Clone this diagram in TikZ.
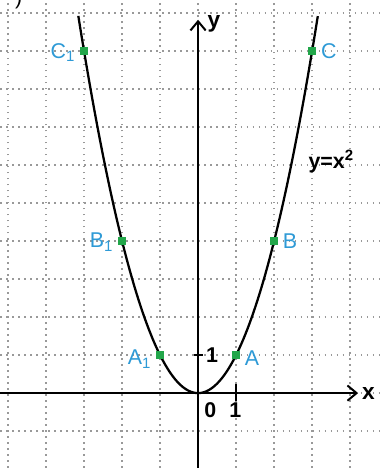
\documentclass[tikz,border=0pt]{standalone}
\usepackage{fontspec}
\setmainfont{Liberation Sans}
\usepackage{xcolor}
\usetikzlibrary{arrows.meta, positioning}

\definecolor{lblblue}{HTML}{2E9AD6}
\definecolor{ptgreen}{HTML}{22A64A}

\begin{document}
\begin{tikzpicture}[
    every node/.style={font=\fontsize{16}{18}\selectfont},
    grid/.style={gray!80, line width=1pt, dash pattern=on 1.2pt off 3.3pt},
    axis/.style={line width=1.5pt, -{Straight Barb[length=2.4mm, width=4mm, line width=1.5pt]}},
    curve/.style={line width=1.7pt, black},
    ptbox/.style={rectangle, fill=ptgreen, minimum size=6.5pt, inner sep=0pt},
    lbl/.style={text=lblblue, inner sep=1pt},
    num/.style={inner sep=1pt, font=\fontsize{16}{18}\selectfont\bfseries},
    axlab/.style={font=\fontsize{17}{19}\selectfont\bfseries}
]
\useasboundingbox (-5.21,-1.97) rectangle (4.89,10.34);

% grid
\foreach \i in {-5,...,4} \draw[grid] (\i,-1.97) -- (\i,10.34);
\foreach \j in {-1,...,10} \draw[grid] (-5.21,\j) -- (4.89,\j);

% axes
\coordinate (xl) at (-5.21,0);
\coordinate (xr) at (4.21,0);
\coordinate (yb) at (0,-1.97);
\coordinate (yt) at (0,9.82);
\draw[axis] (xl) -- (xr);
\draw[axis] (yb) -- (yt);
\node (xlab) [axlab] at (4.48,0) {x};
\node (ylab) [axlab] at (0.42,9.72) {y};

% ticks
\draw[line width=1.3pt] (1,-0.22) -- (1,0.25);
\draw[line width=1.3pt] (-0.12,1) -- (0.12,1);
\node (zero) [num] at (0.32,-0.46) {0};
\node (one) [num] at (0.98,-0.46) {1};
\node (oney) [num] at (0.37,1) {1};

% parabola
\draw[curve] plot[domain=-3.15:3.15, samples=120] (\x,{\x*\x});
\node (fn) at (3.5,6.1) {\textbf{y=x\textsuperscript{2}}};

% points
\node (a) [ptbox] at (1,1) {};
\node (b) [ptbox] at (2,4) {};
\node (c) [ptbox] at (3,9) {};
\node (a1) [ptbox] at (-1,1) {};
\node (b1) [ptbox] at (-2,4) {};
\node (c1) [ptbox] at (-3,9) {};

\node [lbl, right=2pt of a, yshift=-2pt] {A};
\node [lbl, right=2pt of b] {B};
\node [lbl, right=2pt of c] {C};
\node [lbl, left=2pt of a1, yshift=-3pt] {A\textsubscript{1}};
\node [lbl, left=2pt of b1, yshift=-1pt] {B\textsubscript{1}};
\node [lbl, left=2pt of c1, yshift=-1pt] {C\textsubscript{1}};

\node (corner) [anchor=base] at (-4.72,10.22) {)};
\end{tikzpicture}
\end{document}
